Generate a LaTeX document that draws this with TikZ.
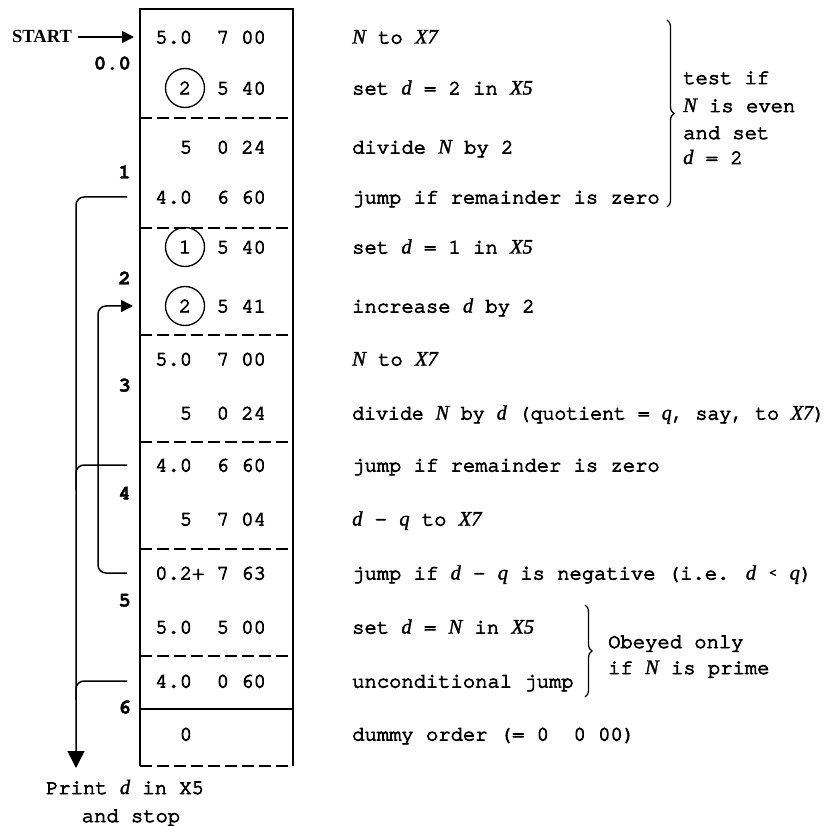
\documentclass[tikz,border=0pt]{standalone}
\usepackage{fontspec}
\usetikzlibrary{arrows.meta,decorations.pathreplacing}
\newfontfamily\tw[Extension=.otf, FakeBold=4]{texgyrecursor-regular}
\newfontfamily\twb[Extension=.otf, FakeBold=1.5]{texgyrecursor-bold}
\newfontfamily\itf{Liberation Serif}[FakeBold=1.5]
\newfontfamily\stf{Liberation Serif}
\newcommand\iv[1]{{\itf\itshape #1}}
\newcommand\rowfont{\tw\fontsize{20.5}{24}\selectfont}
\begin{document}
\begin{tikzpicture}[x=1pt,y=-1pt,
  boxline/.style={line width=1.6pt},
  dashline/.style={line width=1.6pt, dash pattern=on 12pt off 5pt},
  code/.style={inner sep=0pt, anchor=base west, font=\rowfont},
  desc/.style={inner sep=0pt, anchor=base west, font=\rowfont},
  lab/.style={inner sep=0pt, anchor=base east, font=\twb\fontsize{20.5}{24}\selectfont},
  circ/.style={circle, draw, line width=1.3pt, minimum size=39pt, inner sep=0pt, font=\rowfont},
  conn/.style={line width=1.5pt, rounded corners=8pt},
  bigtip/.style={-{Triangle[length=17pt,width=17pt]}},
  smalltip/.style={-{Triangle[length=12pt,width=12pt]}},
  brc/.style={line width=1.3pt, decorate, decoration={brace, amplitude=7pt}}]
\useasboundingbox (0,0) rectangle (838,826);
% box
\draw[boxline] (140,766) -- (140,9) -- (293,9) -- (293,766);
\foreach \yy in {118,228,335,442,549,656,766}
  \draw[dashline] (140,\yy) -- (293,\yy);
\draw[boxline] (140,709) -- (293,709);
% code rows
\node[code] (r1) at (155,43.5) {5.0~~7~00};
\node[circ] (c1) at (185,88) {2};
\node[code] (r2) at (155,94.5) {~~~~~5~40};
\node[code] (r3) at (155,153.5) {~~5~~0~24};
\node[code] (r4) at (155,203.5) {4.0~~6~60};
\node[circ] (c2) at (185,247) {1};
\node[code] (r5) at (155,253.5) {~~~~~5~40};
\node[circ] (c3) at (185,306) {2};
\node[code] (r6) at (155,312.5) {~~~~~5~41};
\node[code] (r7) at (155,365.5) {5.0~~7~00};
\node[code] (r8) at (155,419.5) {~~5~~0~24};
\node[code] (r9) at (155,471.5) {4.0~~6~60};
\node[code] (r10) at (155,525.5) {~~5~~7~04};
\node[code] (r11) at (155,579.5) {0.2+~7~63};
\node[code] (r12) at (155,633.5) {5.0~~5~00};
\node[code] (r13) at (155,687.5) {4.0~~0~60};
\node[code] (r14) at (155,740.5) {~~0};
% address labels
\node[lab] (a0) at (131,69.5) {0.0};
\node[lab] (a1) at (131,178.5) {1};
\node[lab] (a2) at (131,284.5) {2};
\node[lab] (a3) at (131,391.5) {3};
\node[lab] (a4) at (131,499.5) {4};
\node[lab] (a5) at (131,606.5) {5};
\node[lab] (a6) at (131,713.5) {6};
% descriptions
\node[desc] (d1) at (352,43.5) {\iv{N} to \iv{X7}};
\node[desc] (d2) at (352,94.5) {set \iv{d} = 2 in \iv{X5}};
\node[desc] (d3) at (352,153.5) {divide \iv{N} by 2};
\node[desc] (d4) at (352,203.5) {jump if remainder is zero};
\node[desc] (d5) at (352,253.5) {set \iv{d} = 1 in \iv{X5}};
\node[desc] (d6) at (352,312.5) {increase \iv{d} by 2};
\node[desc] (d7) at (352,365.5) {\iv{N} to \iv{X7}};
\node[desc] (d8) at (352,419.5) {\scalebox{0.97}[1]{divide \iv{N} by \iv{d} (quotient = \iv{q}, say, to \iv{X7})}};
\node[desc] (d9) at (352,471.5) {jump if remainder is zero};
\node[desc] (d10) at (352,525.5) {\iv{d} – \iv{q} to \iv{X7}};
\node[desc] (d11) at (352,579.5) {jump if \iv{d} – \iv{q} is negative (i.e. \iv{d} \raisebox{3pt}{\fontsize{15}{16}\selectfont<} \iv{q})};
\node[desc] (d12) at (352,633.5) {set \iv{d} = \iv{N} in \iv{X5}};
\node[desc] (d13) at (352,687.5) {unconditional jump};
\node[desc] (d14) at (352,740.5) {dummy order (= 0~~0 00)};
% braces and notes
\coordinate (b1t) at (667,20);
\coordinate (b1b) at (667,207);
\draw[brc] (b1t) -- (b1b);
\node[desc] (n1) at (683,84) {test if};
\node[desc] (n2) at (683,112) {\iv{N} is even};
\node[desc] (n3) at (683,139) {and set};
\node[desc] (n4) at (683,164) {\iv{d} = 2};
\coordinate (b2t) at (585,605);
\coordinate (b2b) at (585,697);
\draw[brc] (b2t) -- (b2b);
\node[desc] (n5) at (608,648) {Obeyed only};
\node[desc] (n6) at (608,674) {if \iv{N} is prime};
% start
\node[inner sep=0pt, anchor=base west, font=\stf\bfseries\fontsize{18.5}{20}\selectfont] (start) at (12,43) {START};
\coordinate (s1) at (78,37);
\coordinate (s2) at (134,37);
\draw[line width=1.5pt, smalltip] (s1) -- (s2);
% jumps to print
\coordinate (j1) at (127,197);
\coordinate (pend) at (76,768);
\draw[conn, bigtip] (j1) -| (pend);
\coordinate (j2) at (127,465);
\coordinate (m2) at (76,490);
\draw[conn] (j2) -| (m2);
\coordinate (j3) at (127,681);
\coordinate (m3) at (76,700);
\draw[conn] (j3) -| (m3);
% loop
\coordinate (l1) at (127,573);
\coordinate (l2) at (98,306);
\coordinate (l3) at (133,306);
\draw[conn, smalltip] (l1) -| (l2) -- (l3);
% print text
\node[inner sep=0pt, anchor=base, font=\rowfont] (p1) at (125,794) {Print \iv{d} in X5};
\node[inner sep=0pt, anchor=base, font=\rowfont] (p2) at (131,822) {and stop};
\end{tikzpicture}
\end{document}
